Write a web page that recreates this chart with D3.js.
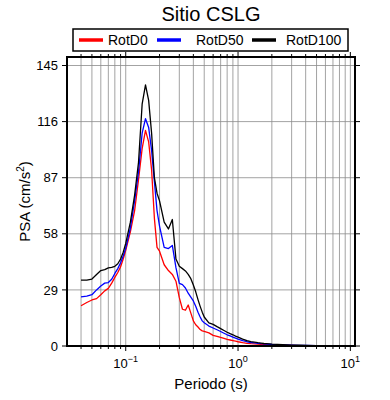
<!DOCTYPE html>
<html>
<head>
<meta charset="utf-8">
<script src="https://cdn.jsdelivr.net/npm/d3@7.9.0/dist/d3.min.js"></script>
<style>
  body { margin: 0; background: #fff; }
  svg { font-family: "Liberation Sans", Arial, sans-serif; }
</style>
</head>
<body>
<svg id="chart" width="390" height="400"></svg>
<script>
const title = 'Sitio CSLG';
const seriesNames = ['RotD0', 'RotD50', 'RotD100'];
const seriesColors = ['#ff0000', '#0000ff', '#000000'];
const yTicks = [0, 29, 58, 87, 116, 145];
const xLabelTicks = [0.1, 1, 10];

const periods = [0.04, 0.045, 0.05, 0.055, 0.06, 0.065, 0.07, 0.075, 0.08, 0.085, 0.09, 0.095,
  0.1, 0.11, 0.12, 0.13, 0.14, 0.15, 0.16, 0.17, 0.18, 0.19, 0.2, 0.22, 0.24, 0.26, 0.28,
  0.3, 0.32, 0.34, 0.36, 0.38, 0.4, 0.42, 0.44, 0.46, 0.48, 0.5, 0.55, 0.6, 0.65, 0.7,
  0.75, 0.8, 0.85, 0.9, 0.95, 1.0, 1.1, 1.2, 1.3, 1.4, 1.5, 1.6, 1.7, 1.8, 1.9, 2.0,
  2.5, 3.0, 3.5, 4.0, 5.0, 6.0, 7.0, 8.0, 9.0, 10.0];

const rotD0 = [20.8, 22.5, 23.8, 24.5, 26.5, 28.5, 29.8, 32.5, 35.5, 38, 41, 45,
  49.5, 59, 70, 86, 102, 111.5, 105.5, 91, 66, 51, 49, 42, 39, 37, 33.5,
  25, 19, 18.5, 21.2, 17, 13, 11, 9.8, 8.5, 7.8, 7.5, 6.8, 5.5, 5.0, 4.4,
  3.9, 3.4, 3.1, 2.8, 2.5, 2.2, 1.7, 1.4, 1.2, 1.1, 1.0, 0.85, 0.75, 0.68, 0.62, 0.55,
  0.4, 0.3, 0.22, 0.18, 0.13, 0.1, 0.08, 0.06, 0.05, 0.05];

const rotD50 = [25.4, 25.8, 26.5, 29.0, 31.0, 32.5, 32.8, 34.5, 37.5, 40, 43, 46.5,
  50.5, 61, 75, 90, 110, 117.5, 113, 101, 85, 70, 62, 51, 50.4, 52, 40.5,
  32.4, 31.7, 30, 27.3, 25.3, 23.3, 20.5, 17.5, 15, 13, 12, 10.3, 9.3, 8.4, 7.5,
  6.6, 5.8, 5.2, 4.6, 4.1, 3.6, 2.8, 2.2, 1.8, 1.6, 1.4, 1.2, 1.1, 1.0, 0.9, 0.8,
  0.55, 0.4, 0.3, 0.25, 0.18, 0.13, 0.1, 0.08, 0.07, 0.06];

const rotD100 = [34.1, 34.1, 34.6, 37.0, 39.0, 39.5, 40.4, 40.6, 41.2, 42.5, 45.0, 48.5,
  53, 64, 78, 95, 125, 135, 127, 110, 87, 79, 75, 64, 60.5, 65.4, 45,
  41.2, 40, 38.8, 37, 34.8, 31.5, 28, 24, 20.5, 17.5, 15, 12, 11.2, 10.0, 9.0,
  8.0, 7.1, 6.4, 5.8, 5.1, 4.6, 3.6, 2.8, 2.3, 2.0, 1.7, 1.5, 1.3, 1.2, 1.1, 1.0,
  0.7, 0.5, 0.4, 0.3, 0.2, 0.15, 0.12, 0.1, 0.08, 0.07];

const seriesValues = [rotD0, rotD50, rotD100];

const plotLeft = 67, plotRight = 355, plotTop = 57, plotBottom = 346;
const svg = d3.select('#chart');

const x = d3.scaleLog().domain([0.03, 11]).range([plotLeft, plotRight]);
const y = d3.scaleLinear().domain([0, 149.4]).range([plotBottom, plotTop]);

// grid
const minorTicks = x.ticks().filter((t) => t > 0.03 && t < 11);
svg.append('g')
  .selectAll('line')
  .data(minorTicks)
  .join('line')
  .attr('x1', (d) => x(d)).attr('x2', (d) => x(d))
  .attr('y1', plotTop).attr('y2', plotBottom)
  .attr('stroke', '#8c8c8c').attr('stroke-width', 0.8);

svg.append('g')
  .selectAll('line')
  .data(yTicks.filter((t) => t > 0))
  .join('line')
  .attr('x1', plotLeft).attr('x2', plotRight)
  .attr('y1', (d) => y(d)).attr('y2', (d) => y(d))
  .attr('stroke', '#8c8c8c').attr('stroke-width', 0.8);

// curves
const line = d3.line()
  .x((d) => x(d[0]))
  .y((d) => y(d[1]));

seriesValues.forEach((vals, i) => {
  svg.append('path')
    .datum(periods.map((p, j) => [p, vals[j]]))
    .attr('d', line)
    .attr('fill', 'none')
    .attr('stroke', seriesColors[i])
    .attr('stroke-width', 1.3)
    .attr('stroke-linejoin', 'round');
});

// ticks on all sides
const tickGroup = svg.append('g').attr('stroke', '#000').attr('stroke-width', 1);
minorTicks.forEach((t) => {
  const major = xLabelTicks.includes(t);
  const len = major ? 5 : 3;
  tickGroup.append('line')
    .attr('x1', x(t)).attr('x2', x(t))
    .attr('y1', plotBottom).attr('y2', plotBottom + len);
  tickGroup.append('line')
    .attr('x1', x(t)).attr('x2', x(t))
    .attr('y1', plotTop).attr('y2', plotTop - len);
});
yTicks.forEach((t) => {
  tickGroup.append('line')
    .attr('x1', plotLeft - 5).attr('x2', plotLeft)
    .attr('y1', y(t)).attr('y2', y(t));
  tickGroup.append('line')
    .attr('x1', plotRight).attr('x2', plotRight + 5)
    .attr('y1', y(t)).attr('y2', y(t));
});

// frame
svg.append('rect')
  .attr('x', plotLeft).attr('y', plotTop)
  .attr('width', plotRight - plotLeft).attr('height', plotBottom - plotTop)
  .attr('fill', 'none').attr('stroke', '#000').attr('stroke-width', 2);

// y tick labels
svg.append('g')
  .selectAll('text')
  .data(yTicks)
  .join('text')
  .attr('x', plotLeft - 9)
  .attr('y', (d) => y(d))
  .attr('dy', '0.36em')
  .attr('text-anchor', 'end')
  .attr('font-size', 13)
  .text((d) => d);

// x tick labels 10^n
xLabelTicks.forEach((t) => {
  const e = Math.round(Math.log10(t));
  const txt = svg.append('text')
    .attr('x', x(t))
    .attr('y', 368)
    .attr('text-anchor', 'middle')
    .attr('font-size', 13);
  txt.append('tspan').text('10');
  txt.append('tspan')
    .attr('dy', -6)
    .attr('font-size', 9)
    .text(e < 0 ? '\u2212' + Math.abs(e) : e);
});

// axis titles
svg.append('text')
  .attr('x', (plotLeft + plotRight) / 2)
  .attr('y', 389)
  .attr('text-anchor', 'middle')
  .attr('font-size', 15)
  .text('Periodo (s)');

const yTitle = svg.append('text')
  .attr('transform', `translate(30, ${(plotTop + plotBottom) / 2}) rotate(-90)`)
  .attr('text-anchor', 'middle')
  .attr('font-size', 15);
yTitle.append('tspan').text('PSA (cm/s');
yTitle.append('tspan').attr('dy', -6).attr('font-size', 10).text('2');
yTitle.append('tspan').attr('dy', 6).text(')');

// title
svg.append('text')
  .attr('x', (plotLeft + plotRight) / 2)
  .attr('y', 21)
  .attr('text-anchor', 'middle')
  .attr('font-size', 20)
  .text(title);

// legend
const legend = svg.append('g');
legend.append('rect')
  .attr('x', 73).attr('y', 29)
  .attr('width', 275).attr('height', 22)
  .attr('fill', '#fff').attr('stroke', '#000').attr('stroke-width', 1.5);

const legendLineX = [79, 157, 252];
const legendTextX = [108, 196, 286];
seriesNames.forEach((name, i) => {
  legend.append('line')
    .attr('x1', legendLineX[i]).attr('x2', legendLineX[i] + 24)
    .attr('y1', 40).attr('y2', 40)
    .attr('stroke', seriesColors[i]).attr('stroke-width', 3.5);
  legend.append('text')
    .attr('x', legendTextX[i]).attr('y', 45)
    .attr('font-size', 14)
    .text(name);
});
</script>
</body>
</html>
